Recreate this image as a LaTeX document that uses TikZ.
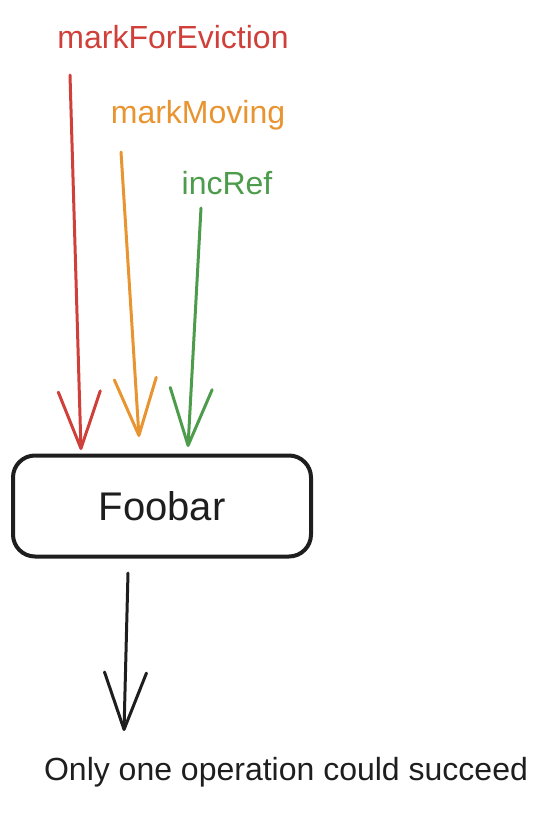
\documentclass[tikz,border=0pt]{standalone}
\usepackage{fontspec}
\setmainfont{Liberation Sans}
\usetikzlibrary{arrows.meta}
\definecolor{evictred}{RGB}{208,64,58}
\definecolor{moveorange}{RGB}{232,148,48}
\definecolor{refgreen}{RGB}{76,156,76}
\definecolor{inkblack}{RGB}{30,30,30}
\begin{document}
\begin{tikzpicture}[x=1pt,y=-1pt,
    lbl/.style={font=\fontsize{32}{38}\selectfont, inner sep=0pt, anchor=base},
    arr/.style={line width=3pt, line cap=round, line join=round,
      -{Straight Barb[length=57pt,width=42pt,round]}},
    box/.style={draw=inkblack, line width=4pt, rounded corners=22pt,
      minimum width=298pt, minimum height=101pt,
      font=\fontsize{40}{44}\selectfont, text=inkblack}]
  \useasboundingbox (0,0) rectangle (556,822);

  % labels on top
  \node[lbl, text=evictred]   (evictLbl) at (173,48)  {markForEviction};
  \node[lbl, text=moveorange] (moveLbl)  at (198,123) {markMoving};
  \node[lbl, text=refgreen]   (refLbl)   at (227,194) {incRef};

  % the box and the result
  \node[box] (foobar) at (162,506) {Foobar};
  \node[lbl, text=inkblack] (result) at (286,780) {Only one operation could succeed};

  % arrow ends
  \coordinate (evictStart) at (70,75);
  \coordinate (evictEnd)   at (81,450);
  \coordinate (moveStart)  at (121,152);
  \coordinate (moveEnd)    at (139,437);
  \coordinate (refStart)   at (201,208);
  \coordinate (refEnd)     at (188,447);
  \coordinate (outStart)   at (128,573);
  \coordinate (outEnd)     at (124,731);

  \draw[arr, evictred]   (evictStart) -- (evictEnd);
  \draw[arr, moveorange] (moveStart)  -- (moveEnd);
  \draw[arr, refgreen]   (refStart)   -- (refEnd);
  \draw[arr, inkblack]   (outStart)   -- (outEnd);
\end{tikzpicture}
\end{document}
